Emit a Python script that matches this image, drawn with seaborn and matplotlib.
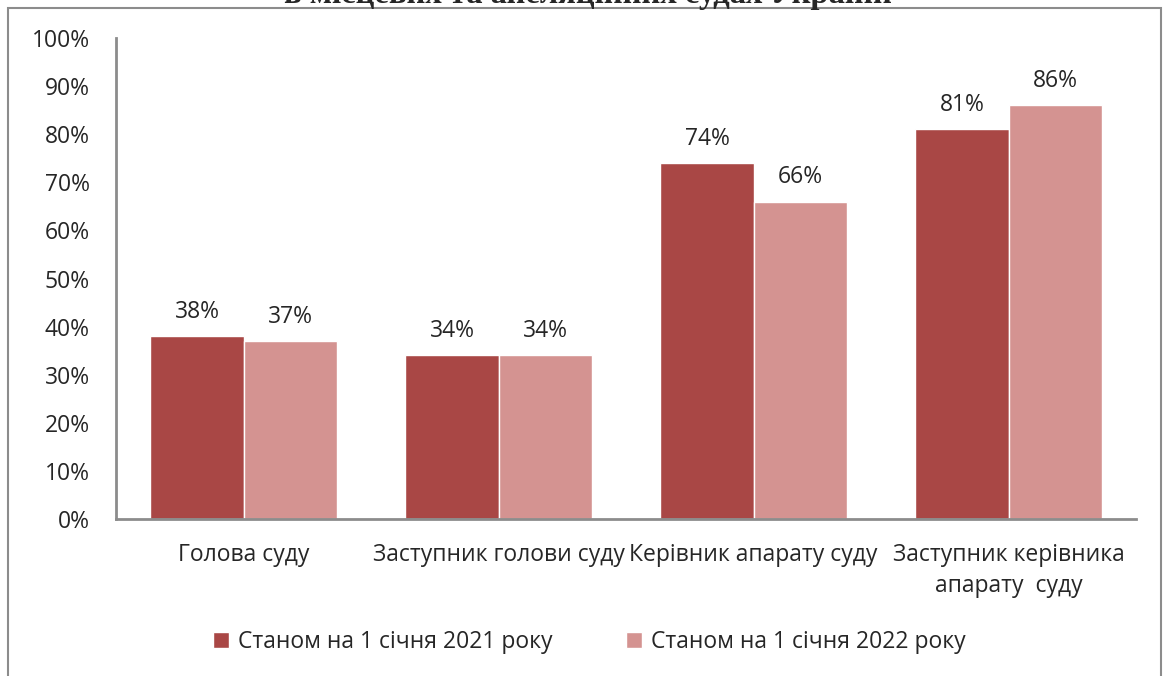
import pandas as pd
import numpy as np
import matplotlib
matplotlib.use('Agg')
import matplotlib.pyplot as plt
import seaborn as sns
from matplotlib.patches import Rectangle, Patch

# Data
positions = ['Голова суду', 'Заступник голови суду', 'Керівник апарату суду',
             'Заступник керівника\nапарату  суду']
dates = ['Станом на 1 січня 2021 року', 'Станом на 1 січня 2022 року']
values_2021 = [38, 34, 74, 81]
values_2022 = [37, 34, 66, 86]
title_text = 'в місцевих та апеляційних судах України'

colors = ['#A94745', '#D49391']
sns.set_theme(style='white')
plt.rcParams['font.family'] = ['Open Sans', 'DejaVu Sans']
fs = 16.5

df = pd.DataFrame({
    'position': positions * 2,
    'date': [dates[0]] * 4 + [dates[1]] * 4,
    'value': values_2021 + values_2022,
})

fig = plt.figure(figsize=(11.64, 6.76), dpi=100)
ax = fig.add_axes([116 / 1164, 1 - 519 / 676, (1136 - 116) / 1164, (519 - 38) / 676])

sns.barplot(data=df, x='position', y='value', hue='date', hue_order=dates,
            palette=colors, width=0.73, saturation=1, legend=False, ax=ax)

for cont in ax.containers:
    ax.bar_label(cont, labels=[f'{v:.0f}%' for v in cont.datavalues],
                 padding=9, fontsize=fs)

ax.set_ylim(0, 100)
ax.set_xlim(-0.5, 3.5)
ax.set_yticks(np.arange(0, 101, 10))
ax.set_yticklabels([f'{v}%' for v in range(0, 101, 10)], fontsize=fs)
ax.tick_params(axis='x', labelsize=fs, pad=17, length=0)
ax.tick_params(axis='y', pad=19, length=0)
for lbl in ax.get_xticklabels():
    lbl.set_linespacing(1.4)
ax.set_xlabel('')
ax.set_ylabel('')
for s in ['top', 'right']:
    ax.spines[s].set_visible(False)
for s in ['left', 'bottom']:
    ax.spines[s].set_color('#8c8c8c')
    ax.spines[s].set_linewidth(2)

handles = [Patch(facecolor=c, label=d) for c, d in zip(colors, dates)]
fig.legend(handles=handles, loc='center', bbox_to_anchor=(0.506, 1 - 642 / 676),
           ncol=2, frameon=False, fontsize=fs, handlelength=0.7, handleheight=0.7,
           handletextpad=0.4, columnspacing=3.2)

# outer chart border (bottom edge falls outside the image)
fig.patches.append(Rectangle((8 / 1164, -0.1), (1161 - 8) / 1164, 1.1 - 8 / 676,
                             transform=fig.transFigure, fill=False,
                             edgecolor='#8c8c8c', linewidth=1.5))

# title, mostly cut off at the top
fig.text(0.505, 1 - 3 / 676, title_text, ha='center', va='baseline',
         fontsize=23.5, fontweight='bold', family='Liberation Serif')

fig.savefig('out.png', dpi=100)
